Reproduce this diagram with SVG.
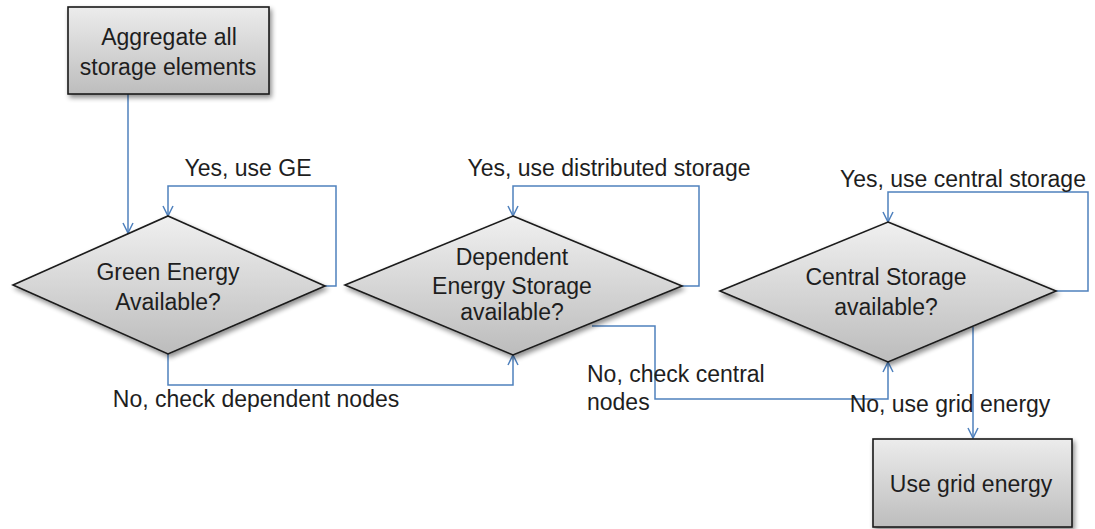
<svg xmlns="http://www.w3.org/2000/svg" width="1095" height="529" viewBox="0 0 1095 529">
  <defs>
    <linearGradient id="boxFill" x1="0" y1="0" x2="0" y2="1">
      <stop offset="0" stop-color="#ececec"/>
      <stop offset="1" stop-color="#bdbdbd"/>
    </linearGradient>
    <linearGradient id="decFill" x1="0" y1="0" x2="0" y2="1">
      <stop offset="0" stop-color="#f0f0f0"/>
      <stop offset="0.5" stop-color="#d6d6d6"/>
      <stop offset="1" stop-color="#bcbcbc"/>
    </linearGradient>
    <filter id="shadow" x="-10%" y="-10%" width="125%" height="130%">
      <feGaussianBlur in="SourceAlpha" stdDeviation="2.5"/>
      <feOffset dx="2" dy="3" result="b"/>
      <feComponentTransfer><feFuncA type="linear" slope="0.45"/></feComponentTransfer>
      <feMerge><feMergeNode/><feMergeNode in="SourceGraphic"/></feMerge>
    </filter>
    <marker id="arrow" viewBox="0 0 12 12" refX="11" refY="6" markerWidth="12" markerHeight="12" markerUnits="userSpaceOnUse" orient="auto">
      <path d="M1,1 L11,6 L1,11" fill="none" stroke="#4f81bd" stroke-width="1.5"/>
    </marker>
  </defs>
  <style>
    text { font-family: "Liberation Sans", Arial, sans-serif; font-size: 23px; fill: #1e1e1e; }
    .c { text-anchor: middle; }
    .box { fill: url(#boxFill); stroke: #1a1a1a; stroke-width: 1.6; }
    .dec { fill: url(#decFill); stroke: #1a1a1a; stroke-width: 1.6; }
    .link { fill: none; stroke: #4f81bd; stroke-width: 1.5; marker-end: url(#arrow); }
  </style>
  <rect width="1095" height="529" fill="#ffffff"/>

  <!-- connectors -->
  <g id="connectors">
    <path class="link" d="M128,94 V233"/>
    <path class="link" d="M325,286 H336 V186 H168 V216"/>
    <path class="link" d="M168,354 V385 H513 V355"/>
    <path class="link" d="M682,286 H699 V186 H513 V216"/>
    <path class="link" d="M592,326 H655 V399 H888 V362"/>
    <path class="link" d="M1056,291 H1088 V192 H888 V222"/>
    <path class="link" d="M973,327 V438"/>
  </g>

  <!-- nodes -->
  <g id="aggregate">
    <rect class="box" x="68" y="7" width="201" height="87" filter="url(#shadow)"/>
    <text class="c" x="169" y="45">Aggregate all</text>
    <text class="c" x="168" y="75">storage elements</text>
  </g>
  <g id="green-energy">
    <polygon class="dec" points="168,216 325,286 168,354 13,285" filter="url(#shadow)"/>
    <text class="c" x="168" y="280">Green Energy</text>
    <text class="c" x="168" y="310">Available?</text>
  </g>
  <g id="dependent-storage">
    <polygon class="dec" points="513,216 682,286 513,355 345,285" filter="url(#shadow)"/>
    <text class="c" x="512" y="265">Dependent</text>
    <text class="c" x="512" y="294">Energy Storage</text>
    <text class="c" x="512" y="320">available?</text>
  </g>
  <g id="central-storage">
    <polygon class="dec" points="888,222 1056,291 888,362 720,291" filter="url(#shadow)"/>
    <text class="c" x="886" y="285">Central Storage</text>
    <text class="c" x="886" y="315">available?</text>
  </g>
  <g id="grid-energy">
    <rect class="box" x="873" y="439" width="199" height="88" filter="url(#shadow)"/>
    <text class="c" x="971" y="492">Use grid energy</text>
  </g>

  <!-- edge labels -->
  <g id="labels">
    <text class="c" x="248" y="176">Yes, use GE</text>
    <text class="c" x="609" y="176">Yes, use distributed storage</text>
    <text class="c" x="963" y="187">Yes, use central storage</text>
    <text class="c" x="256" y="407">No, check dependent nodes</text>
    <text x="587" y="382">No, check central</text>
    <text x="587" y="410">nodes</text>
    <text class="c" x="950" y="412">No, use grid energy</text>
  </g>
</svg>
